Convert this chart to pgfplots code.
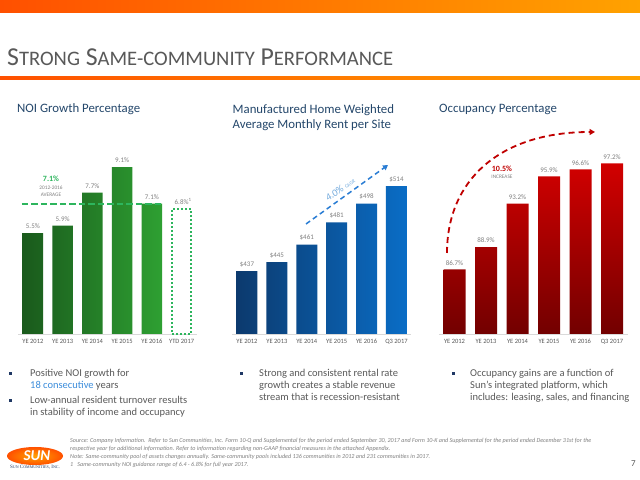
\documentclass[border=0pt]{standalone}
\usepackage{fontspec}
\setmainfont{Carlito}
\newfontfamily\seriffont{Liberation Serif}
\usepackage{pgfplots}
\pgfplotsset{compat=1.18}
\usetikzlibrary{arrows.meta,backgrounds}
\definecolor{titlegrey}{HTML}{595959}
\definecolor{ctitle}{HTML}{24476B}
\definecolor{labg}{HTML}{595959}
\definecolor{valg}{HTML}{808080}
\definecolor{lineg}{HTML}{D9D9D9}
\definecolor{gA}{HTML}{1A5A1C}
\definecolor{gB}{HTML}{2EA032}
\definecolor{dotg}{HTML}{2DB55D}
\definecolor{bA}{HTML}{0C3A6E}
\definecolor{bB}{HTML}{0A6DC6}
\definecolor{arrowb}{HTML}{2A7DD4}
\definecolor{cagr}{HTML}{6FA8DC}
\definecolor{rA}{HTML}{D20000}
\definecolor{rB}{HTML}{720000}
\definecolor{redt}{HTML}{C00000}
\definecolor{oA}{HTML}{FF5000}
\definecolor{oB}{HTML}{FFA200}
\definecolor{navy}{HTML}{1F3864}
\definecolor{hl}{HTML}{3C8DDB}
\definecolor{foot}{HTML}{7F7F7F}
\pgfdeclarehorizontalshading{greenbar}{100bp}{color(0bp)=(gA); color(25bp)=(gA); color(75bp)=(gB); color(100bp)=(gB)}
\pgfdeclarehorizontalshading{bluebar}{100bp}{color(0bp)=(bA); color(25bp)=(bA); color(75bp)=(bB); color(100bp)=(bB)}
\newcommand{\fs}[1]{\fontsize{#1bp}{#1bp}\selectfont}
\newcommand{\BL}[1]{{\fs{25.8}#1}}
\newcommand{\SL}[1]{{\fs{20.6}#1}}
\pgfplotsset{
  slidebar/.style={
    scale only axis, enlargelimits=false, xmin=-0.5, xmax=5.5,
    hide y axis, axis x line*=bottom, x axis line style={draw=lineg, line width=0.75bp, -},
    xtick={0,...,5}, xtick style={draw=none}, major tick length=0pt,
    xticklabel style={font=\fs{6.5}, text=labg, inner sep=0pt, yshift=-5bp},
    clip=false,
  },
  vals/.style={point meta=explicit symbolic, nodes near coords,
    every node near coord/.append style={font=\fs{7}, text=valg, inner sep=0pt, yshift=4bp}},
}
\begin{document}
\begin{tikzpicture}[x=1bp,y=1bp]
% ---------- chart 1
\begin{scope}[shift={(18,146)}]
\begin{axis}[slidebar, width=178.5bp, height=183.5bp, ymin=0, ymax=10,
  xticklabels={YE 2012,YE 2013,YE 2014,YE 2015,YE 2016,YTD 2017}]
\addplot[ybar, bar width=20.5bp, bar shift=0pt, draw=none, shading=greenbar, vals]
  coordinates {(0,5.5)[5.5\%] (1,5.9)[5.9\%] (2,7.7)[7.7\%] (3,9.1)[9.1\%] (4,7.1)[7.1\%]};
\addplot[ybar, bar width=19bp, bar shift=0pt, draw=dotg, line width=2bp, dash pattern=on 2bp off 2bp, fill=white, vals]
  coordinates {(5,6.8)[6.8\%\rlap{\textsuperscript{1}}]};
\addplot[draw=dotg, line width=2bp, dash pattern=on 6.5bp off 3bp, forget plot]
  coordinates {(-0.37,7.1) (4.37,7.1)};
\end{axis}
\end{scope}
% ---------- chart 2
\begin{scope}[shift={(232,146)}]
\begin{axis}[slidebar, width=179.4bp, height=180bp, ymin=380, ymax=543,
  xticklabels={YE 2012,YE 2013,YE 2014,YE 2015,YE 2016,Q3 2017}]
\addplot[ybar, bar width=21bp, bar shift=0pt, draw=none, shading=bluebar, vals]
  coordinates {(0,437)[\$437] (1,445)[\$445] (2,461)[\$461] (3,481)[\$481] (4,498)[\$498] (5,514)[\$514]};
\end{axis}
\end{scope}
% ---------- chart 3
\begin{scope}[shift={(438.75,146)}]
\begin{axis}[slidebar, width=189bp, height=178.8bp, ymin=80.3, ymax=98,
  xticklabels={YE 2012,YE 2013,YE 2014,YE 2015,YE 2016,Q3 2017}]
\addplot[ybar, bar width=22bp, bar shift=0pt, draw=none, top color=rA, bottom color=rB, vals]
  coordinates {(0,86.7)[86.7\%] (1,88.9)[88.9\%] (2,93.2)[93.2\%] (3,95.9)[95.9\%] (4,96.6)[96.6\%] (5,97.2)[97.2\%]};
\end{axis}
\end{scope}

\begin{scope}[on background layer]
\fill[white] (0,0) rectangle (640,480);
\end{scope}
% top bar and rule
\shade[left color=oA, right color=oB] (0,467) rectangle (640,480);
\shade[left color=oA, right color=oB] (0,400.5) rectangle (640,403.5);
% slide title
\node[anchor=base west, inner sep=0pt, text=titlegrey] at (7,414.3)
  {\BL{S}\SL{TRONG}\BL{ S}\SL{AME-COMMUNITY}\BL{ P}\SL{ERFORMANCE}};
% chart titles
\node[anchor=base west, inner sep=0pt, text=ctitle, font=\fs{12.8}] at (17,367) {NOI Growth Percentage};
\node[anchor=base west, inner sep=0pt, text=ctitle, font=\fs{12.8}] at (232.5,366) {Manufactured Home Weighted};
\node[anchor=base west, inner sep=0pt, text=ctitle, font=\fs{12.8}] at (232.5,351.5) {Average Monthly Rent per Site};
\node[anchor=base west, inner sep=0pt, text=ctitle, font=\fs{12.8}] at (439,367) {Occupancy Percentage};

% annotations chart 1
\node[text=dotg, font=\fs{8}\bfseries, inner sep=0pt] at (51,301) {7.1\%};
\node[text=valg, font=\fs{5.3}, inner sep=0pt] at (51,292.5) {2012-2016};
\node[text=valg, font=\fs{5.3}, inner sep=0pt] at (51,285.5) {AVERAGE};
% annotations chart 2
\draw[arrowb, line width=1.5bp, dash pattern=on 5bp off 3.5bp, -{Triangle[length=5bp,width=5.5bp]}] (306,256) -- (388,315);
\node[rotate=35.7, inner sep=0pt, text=cagr] at (340,291) {\fs{10}\itshape 4.0\%\ {\fs{5}\upshape CAGR}};
% annotations chart 3
\draw[redt, line width=1.8bp, dash pattern=on 6bp off 4bp, -{Triangle[length=5.5bp,width=6bp]}] (447,227) .. controls (447,300) and (500,348) .. (595,348);
\node[text=redt, font=\fs{8}\bfseries, inner sep=0pt] at (502,311) {10.5\%};
\node[text=valg, font=\fs{5.3}, inner sep=0pt] at (502,303) {INCREASE};

% bullets
\begin{scope}[every node/.style={anchor=base west, inner sep=0pt, text=titlegrey, font=\fs{10.5}}]
\fill[navy] (8.5,104.5) rectangle ++(3.2,3.2);
\node at (30,103) {Positive NOI growth for};
\node at (30,91) {\textcolor{hl}{18 consecutive} years};
\fill[navy] (8.5,77.5) rectangle ++(3.2,3.2);
\node at (30,76) {Low-annual resident turnover results};
\node at (30,64) {in stability of income and occupancy};
\fill[navy] (240,104.5) rectangle ++(3.2,3.2);
\node at (259,103) {Strong and consistent rental rate};
\node at (259,91) {growth creates a stable revenue};
\node at (259,79) {stream that is recession-resistant};
\fill[navy] (452,104.5) rectangle ++(3.2,3.2);
\node at (470,103) {Occupancy gains are a function of};
\node at (470,91) {Sun’s integrated platform, which};
\node at (470,79) {includes: leasing, sales, and financing};
\end{scope}

% footer
\begin{scope}[every node/.style={anchor=base west, inner sep=0pt, text=foot, font=\fs{6.1}\itshape}]
\node at (70,37.5) {Source: Company Information.\ \ Refer to Sun Communities, Inc. Form 10-Q and Supplemental for the period ended September 30, 2017 and Form 10-K and Supplemental for the period ended December 31st for the};
\node at (70,29.5) {respective year for additional information. Refer to information regarding non-GAAP financial measures in the attached Appendix.};
\node at (70,21.5) {Note: Same-community pool of assets changes annually. Same-community pools included 136 communities in 2012 and 231 communities in 2017.};
\node at (70,13) {1\ \ \ Same-community NOI guidance range of 6.4 - 6.8\% for full year 2017.};
\end{scope}
\node[anchor=base east, inner sep=0pt, text=titlegrey, font=\fs{9}] at (636,13) {7};
% logo
\shade[inner color=oB, outer color=oA] (35,24) ellipse [x radius=28, y radius=9];
\node[text=white, font=\fs{15}\bfseries\itshape, inner sep=0pt] at (37,24) {SUN};
\node[anchor=base, inner sep=0pt, text=navy, font=\seriffont\fs{5}] at (35,11) {S{\fs{4}UN} C{\fs{4}OMMUNITIES}, I{\fs{4}NC}.};
\end{tikzpicture}
\end{document}
